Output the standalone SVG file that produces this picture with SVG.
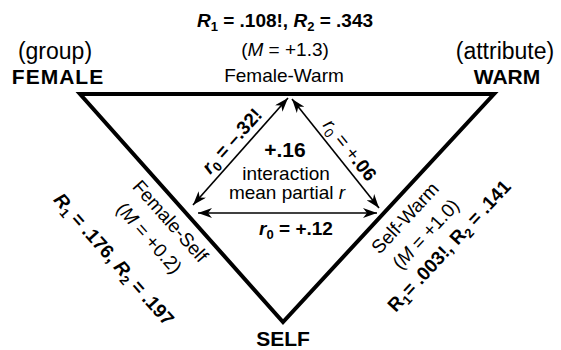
<svg xmlns="http://www.w3.org/2000/svg" width="561" height="350" viewBox="0 0 561 350">
<style>
text{font-family:"Liberation Sans",Arial,Helvetica,sans-serif;fill:#000;}
.b{font-weight:bold;}
.i{font-style:italic;}
.t18{font-size:19px;}
.t20{font-size:21px;}
.t22{font-size:23px;}
.sub{font-size:13px;}
.edge{fill:none;stroke:#000;stroke-width:4;stroke-linejoin:miter;}
.arr{stroke:#000;stroke-width:1.6;fill:none;marker-start:url(#ah);marker-end:url(#ah);}
</style>
<defs>
<marker id="ah" viewBox="0 0 14 10" refX="14" refY="5" markerWidth="14" markerHeight="10" markerUnits="userSpaceOnUse" orient="auto-start-reverse">
<path d="M0,0 L14,5 L0,10 L4,5 z" fill="#000"/>
</marker>
</defs>

<g id="triangle">
<polygon class="edge" points="80,94 494,94 283,322"/>
</g>

<g id="connectors">
<line class="arr" x1="193" y1="205" x2="288" y2="98"/>
<line class="arr" x1="292" y1="99" x2="379" y2="208"/>
<line class="arr" x1="198" y1="213" x2="377" y2="213"/>
</g>

<g id="node-female">
<text class="t22" x="55" y="59" text-anchor="middle">(group)</text>
<text class="t20 b" x="58" y="84" text-anchor="middle" letter-spacing="1">FEMALE</text>
</g>

<g id="node-warm">
<text class="t22" x="505" y="59" text-anchor="middle">(attribute)</text>
<text class="t20 b" x="507" y="84" text-anchor="middle">WARM</text>
</g>

<g id="node-self">
<text class="t20 b" x="283" y="346" text-anchor="middle">SELF</text>
</g>

<g id="edge-female-warm">
<text class="t18 b" x="285" y="27" text-anchor="middle"><tspan class="i">R</tspan><tspan class="sub" dy="4">1</tspan><tspan dy="-4"> = .108!, </tspan><tspan class="i">R</tspan><tspan class="sub" dy="4">2</tspan><tspan dy="-4"> = .343</tspan></text>
<text class="t18" x="285" y="56" text-anchor="middle">(<tspan class="i">M</tspan> = +1.3)</text>
<text class="t18" x="284" y="82" text-anchor="middle">Female-Warm</text>
</g>

<g id="edge-female-self">
<text class="t18" transform="translate(183.1,209.8) rotate(48.3)" x="0" y="23.5" text-anchor="middle">Female-Self</text>
<text class="t18" transform="translate(182.1,208.7) rotate(48.3)" x="0" y="50.6" text-anchor="middle">(<tspan class="i">M</tspan> = +0.2)</text>
<text class="t18 b" transform="translate(177.1,203.1) rotate(48.3)" x="0" y="91" text-anchor="middle"><tspan class="i">R</tspan><tspan class="sub" dy="4">1</tspan><tspan dy="-4"> = .176, </tspan><tspan class="i">R</tspan><tspan class="sub" dy="4">2</tspan><tspan dy="-4"> = .197</tspan></text>
</g>

<g id="edge-self-warm">
<text class="t18" transform="translate(391.2,205.1) rotate(-47.2)" x="0" y="25.4" text-anchor="middle">Self-Warm</text>
<text class="t18" transform="translate(392.8,203.4) rotate(-47.2)" x="0" y="51.5" text-anchor="middle">(<tspan class="i">M</tspan> = +1.0)</text>
<text class="t18 b" transform="translate(397.6,198.2) rotate(-47.2)" x="0" y="76.6" text-anchor="middle">R<tspan class="sub" dy="4">1</tspan><tspan dy="-4">= .003!, </tspan>R<tspan class="sub" dy="4">2</tspan><tspan dy="-4"> = .141</tspan></text>
</g>

<g id="labels-partial">
<text class="t18 b" transform="translate(241.9,149.9) rotate(-48.4)" x="0" y="-7" text-anchor="middle"><tspan class="i">r</tspan><tspan class="sub" dy="4">0</tspan><tspan dy="-4"> = –.32!</tspan></text>
<text class="t18" transform="translate(339.4,158.4) rotate(51.4)" x="0" y="-7" text-anchor="middle"><tspan class="i">r</tspan><tspan class="sub" dy="4">0</tspan><tspan dy="-4"> = +</tspan><tspan class="b">.06</tspan></text>
<text class="t18 b" x="296" y="235" text-anchor="middle"><tspan class="i">r</tspan><tspan class="sub" dy="4">0</tspan><tspan dy="-4"> = +.12</tspan></text>
<text class="b" x="285" y="157" text-anchor="middle" font-size="21">+.16</text>
<text class="t18" x="286" y="180" text-anchor="middle">interaction</text>
<text class="t18" x="287" y="199" text-anchor="middle">mean partial <tspan class="i">r</tspan></text>
</g>
</svg>
